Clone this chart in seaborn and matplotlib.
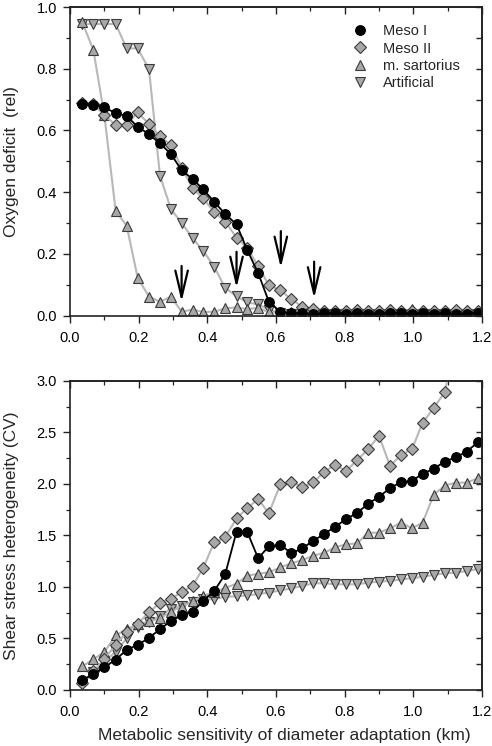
import numpy as np
import pandas as pd
import seaborn as sns
import matplotlib.pyplot as plt
from matplotlib.ticker import MultipleLocator
from matplotlib.lines import Line2D

# metabolic sensitivity (km)
km = [0.036, 0.068, 0.100, 0.133, 0.165, 0.197, 0.230, 0.262, 0.294, 0.325,
      0.357, 0.388, 0.420, 0.452, 0.485, 0.516, 0.548, 0.579, 0.613, 0.645,
      0.677, 0.709, 0.741, 0.772, 0.804, 0.837, 0.868, 0.900, 0.932, 0.964,
      0.996, 1.027, 1.059, 1.091, 1.124, 1.155, 1.188]

# oxygen deficit (rel)
meso1_o2 = [0.685, 0.684, 0.675, 0.656, 0.647, 0.612, 0.588, 0.558, 0.524, 0.471,
            0.443, 0.409, 0.369, 0.329, 0.296, 0.213, 0.138, 0.046, 0.012, 0.008,
            0.008, 0.006, 0.008, 0.008, 0.006, 0.008, 0.007, 0.006, 0.010, 0.008,
            0.006, 0.008, 0.006, 0.008, 0.006, 0.007, 0.010]
meso2_o2 = [0.690, 0.685, 0.650, 0.618, 0.618, 0.659, 0.621, 0.582, 0.553, 0.480,
            0.413, 0.380, 0.335, 0.305, 0.253, 0.219, 0.161, 0.099, 0.082, 0.053,
            0.029, 0.022, 0.016, 0.015, 0.016, 0.017, 0.015, 0.016, 0.017, 0.016,
            0.015, 0.016, 0.015, 0.016, 0.017, 0.016, 0.015]
sart_o2 = [0.950, 0.861, 0.650, 0.339, 0.292, 0.123, 0.062, 0.045, 0.062, 0.013,
           0.020, 0.012, 0.013, 0.024, 0.027, 0.021, 0.026, 0.011, 0.010, 0.012,
           0.010, 0.012, 0.011, 0.012, 0.010, 0.012, 0.011, 0.012, 0.010, 0.012,
           0.022, 0.012, 0.010, 0.012, 0.011, 0.010, 0.012]
art_o2 = [0.945, 0.945, 0.945, 0.945, 0.866, 0.866, 0.799, 0.454, 0.345, 0.301,
          0.251, 0.210, 0.159, 0.090, 0.063, 0.043, 0.037, 0.020, 0.008, 0.006,
          0.005, 0.005, 0.005, 0.005, 0.005, 0.005, 0.005, 0.005, 0.005, 0.005,
          0.005, 0.005, 0.005, 0.005, 0.005, 0.005, 0.005]

# shear stress heterogeneity (CV)
meso1_cv = [0.095, 0.155, 0.220, 0.295, 0.390, 0.438, 0.505, 0.590, 0.670, 0.725,
            0.760, 0.865, 0.961, 1.124, 1.537, 1.537, 1.278, 1.395, 1.408, 1.327,
            1.376, 1.450, 1.515, 1.586, 1.657, 1.722, 1.806, 1.877, 1.958, 2.019,
            2.029, 2.100, 2.146, 2.217, 2.259, 2.314, 2.405]
meso2_cv = [0.070, 0.180, 0.300, 0.440, 0.560, 0.640, 0.755, 0.845, 0.885, 0.950,
            1.010, 1.185, 1.434, 1.482, 1.667, 1.764, 1.854, 1.715, 1.997, 2.023,
            1.968, 2.016, 2.120, 2.184, 2.126, 2.233, 2.337, 2.469, 2.175, 2.282,
            2.337, 2.595, 2.735, 2.890, 3.350, np.nan, np.nan]
sart_cv = [0.230, 0.298, 0.367, 0.530, 0.590, 0.637, 0.665, 0.696, 0.760, 0.810,
           0.860, 0.913, 0.950, 0.990, 1.032, 1.110, 1.128, 1.142, 1.191, 1.230,
           1.262, 1.304, 1.333, 1.385, 1.414, 1.424, 1.527, 1.527, 1.570, 1.624,
           1.570, 1.624, 1.893, 1.984, 2.013, 2.013, 2.055]
art_cv = [0.060, 0.170, 0.275, 0.372, 0.500, 0.615, 0.660, 0.720, 0.790, 0.820,
          0.857, 0.880, 0.880, 0.906, 0.908, 0.920, 0.930, 0.946, 0.966, 0.987,
          1.010, 1.036, 1.036, 1.026, 1.026, 1.026, 1.042, 1.052, 1.058, 1.074,
          1.084, 1.100, 1.117, 1.133, 1.139, 1.155, 1.175]

labels = ['Meso I', 'Meso II', 'm. sartorius', 'Artificial']

# arrows in upper panel: x, y start, y end
arrow_x = [0.325, 0.485, 0.614, 0.711]
arrow_y0 = [0.161, 0.207, 0.274, 0.175]
arrow_y1 = [0.045, 0.090, 0.155, 0.056]

sns.set_style("ticks")
plt.rcParams['font.family'] = ['Liberation Sans', 'DejaVu Sans']

grey = '#a8a8a8'
edge = '#3a3a3a'
line_grey = '#b8b8b8'
styles = {
    'Artificial': dict(marker='v', color=line_grey, mfc=grey, mec=edge, ms=7.0, lw=1.5),
    'm. sartorius': dict(marker='^', color=line_grey, mfc=grey, mec=edge, ms=7.0, lw=1.5),
    'Meso II': dict(marker='D', color=line_grey, mfc=grey, mec=edge, ms=6.4, lw=1.5),
    'Meso I': dict(marker='o', color='black', mfc='black', mec='black', ms=7.0, lw=1.3),
}

fig = plt.figure(figsize=(4.92, 7.46), dpi=100)
ax1 = fig.add_axes([0.1423, 0.5768, 0.8374, 0.4138])
ax2 = fig.add_axes([0.1423, 0.0751, 0.8374, 0.4142])

top = {'Meso I': meso1_o2, 'Meso II': meso2_o2, 'm. sartorius': sart_o2, 'Artificial': art_o2}
bot = {'Meso I': meso1_cv, 'Meso II': meso2_cv, 'm. sartorius': sart_cv, 'Artificial': art_cv}

for ax, data in [(ax1, top), (ax2, bot)]:
    for name in ['Artificial', 'm. sartorius', 'Meso II', 'Meso I']:
        s = styles[name]
        sns.lineplot(x=km, y=data[name], ax=ax, color=s['color'], lw=s['lw'],
                     marker=s['marker'], markersize=s['ms'], markerfacecolor=s['mfc'],
                     markeredgecolor=s['mec'], markeredgewidth=0.8, estimator=None,
                     sort=False)

for x, y0, y1 in zip(arrow_x, arrow_y0, arrow_y1):
    ax1.annotate('', xy=(x, y1), xytext=(x, y0),
                 arrowprops=dict(arrowstyle='->,head_length=1.9,head_width=0.45',
                                 color='black', lw=1.6, shrinkA=0, shrinkB=0,
                                 mutation_scale=10))

ax1.set_ylim(0, 1.0)
ax1.yaxis.set_major_locator(MultipleLocator(0.2))
ax1.yaxis.set_minor_locator(MultipleLocator(0.1))
ax1.set_ylabel('Oxygen deficit  (rel)', fontsize=12.5)
ax1.set_xlabel('')

ax2.set_ylim(0, 3.0)
ax2.yaxis.set_major_locator(MultipleLocator(0.5))
ax2.yaxis.set_minor_locator(MultipleLocator(0.25))
ax2.set_ylabel('Shear stress heterogeneity (CV)', fontsize=12.5)
ax2.set_xlabel('Metabolic sensitivity of diameter adaptation (km)', fontsize=12.5)
ax2.xaxis.set_label_coords(0.52, -0.122)

for ax in (ax1, ax2):
    ax.set_xlim(0, 1.2)
    ax.xaxis.set_major_locator(MultipleLocator(0.2))
    ax.xaxis.set_minor_locator(MultipleLocator(0.1))
    ax.xaxis.set_major_formatter(plt.FormatStrFormatter('%.1f'))
    ax.yaxis.set_major_formatter(plt.FormatStrFormatter('%.1f'))
    for sp in ax.spines.values():
        sp.set_visible(True)
        sp.set_color('#222222')
        sp.set_linewidth(1.2)
    ax.tick_params(which='major', direction='out', length=5, width=1.0,
                   labelsize=10.5, colors='#222222', labelcolor='black')
    ax.tick_params(which='minor', direction='out', length=3, width=0.9, colors='#222222')
    ax.tick_params(axis='x', which='major', pad=6)
    ax.tick_params(axis='y', which='major', pad=4.5)
    ax.yaxis.set_label_coords(-0.125, 0.5)
    # inward ticks on top and right
    sx = ax.secondary_xaxis('top')
    sx.xaxis.set_major_locator(MultipleLocator(0.2))
    sx.xaxis.set_minor_locator(MultipleLocator(0.1))
    sx.tick_params(which='major', direction='in', length=5, width=1.0, labeltop=False, colors='#222222')
    sx.tick_params(which='minor', direction='in', length=3, width=0.9, colors='#222222')
    sy = ax.secondary_yaxis('right')
    sy.yaxis.set_major_locator(ax.yaxis.get_minor_locator())
    sy.tick_params(which='major', direction='in', length=4, width=1.0, labelright=False, colors='#222222')
    for sp in list(sx.spines.values()) + list(sy.spines.values()):
        sp.set_color('#222222')
        sp.set_linewidth(1.2)

handles = [Line2D([], [], ls='none', marker=styles[n]['marker'], ms=styles[n]['ms'],
                  mfc=styles[n]['mfc'], mec=styles[n]['mec'], mew=0.8) for n in labels]
ax1.legend(handles, labels, loc='upper left', bbox_to_anchor=(0.686, 0.944), frameon=False,
           fontsize=10.5, handlelength=1.0, handletextpad=1.05, labelspacing=0.22,
           borderaxespad=0, borderpad=0)

fig.savefig('out.png', dpi=100)
